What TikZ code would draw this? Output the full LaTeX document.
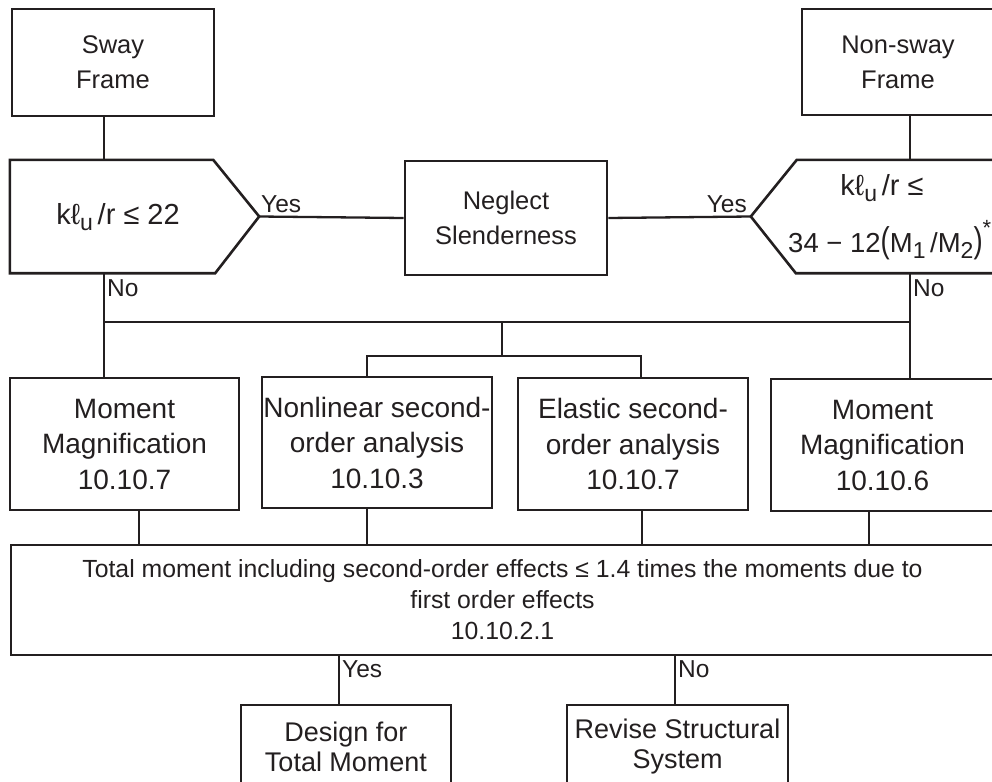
\documentclass[tikz,border=0pt]{standalone}
\usepackage{fontspec}
\setmainfont{Liberation Sans}
\usepackage{graphicx}
\definecolor{ink}{RGB}{35,31,32}
\newcommand\bigtxt{\fontsize{28}{35.5}\selectfont}
\newcommand\midtxt{\fontsize{25.5}{35}\selectfont}
\newcommand\labtxt{\fontsize{24.5}{28}\selectfont}
\newcommand\subtxt[1]{\raisebox{-0.42ex}{\fontsize{23}{23}\selectfont #1}}
\tikzset{
  box/.style={draw=ink, line width=2.6pt, rectangle, inner sep=0pt, align=center, text=ink},
  ghost/.style={rectangle, inner sep=0pt},
  link/.style={draw=ink, line width=2.3pt},
  lab/.style={inner sep=0pt, text=ink, font=\labtxt},
  txt/.style={inner sep=0pt, text=ink, align=center},
}
\begin{document}
\begin{tikzpicture}[x=1pt,y=-1pt]
\useasboundingbox (0,0) rectangle (992,781);
\clip (0,0) rectangle (992,781);

% top boxes
\node[box, minimum width=202pt, minimum height=107pt, font=\midtxt] (sway) at (113,62.5) {Sway\\Frame};
\node[box, minimum width=192pt, minimum height=106pt, font=\midtxt] (nonsway) at (898,62) {Non-sway\\Frame};

% slenderness checks (pointed boxes)
\node[ghost, minimum width=249pt, minimum height=113pt] (q1) at (134.5,216.5) {};
\draw[ink, line width=2.6pt, line join=miter]
  (q1.north west) -- ([xshift=-46pt]q1.north east) -- (q1.east)
  -- ([xshift=-44pt]q1.south east) -- (q1.south west) -- cycle;
\node[txt, font=\fontsize{29}{35}\selectfont] (q1t) at (118,217) {kℓ\subtxt{u}\,/r ≤ 22};

\node[ghost, minimum width=249pt, minimum height=113pt] (q2) at (875.5,216.5) {};
\draw[ink, line width=2.6pt, line join=miter]
  (q2.north east) -- ([xshift=46pt]q2.north west) -- (q2.west)
  -- ([xshift=45pt]q2.south west) -- (q2.south east) -- cycle;
\node[txt, font=\fontsize{29}{35}\selectfont] (q2a) at (882,188) {kℓ\subtxt{u}\,/r ≤};
\node[txt, font=\fontsize{27.5}{35}\selectfont, anchor=west] (q2b) at (788,240)
  {34 − 12\scalebox{1}[1.3]{(}M\subtxt{1}\,/M\subtxt{2}\scalebox{1}[1.3]{)}\raisebox{1.2ex}{\fontsize{22}{22}\selectfont *}};

\node[box, minimum width=202pt, minimum height=114pt, font=\midtxt] (neglect) at (506,218) {Neglect\\Slenderness};

% analysis methods
\node[box, minimum width=229pt, minimum height=132pt, font=\bigtxt] (mm1) at (124.5,444) {Moment\\Magnification\\10.10.7};
\node[box, minimum width=230pt, minimum height=131pt, font=\bigtxt] (nl) at (377,442.5) {Nonlinear second-\\order analysis\\10.10.3};
\node[box, minimum width=230pt, minimum height=132pt, font=\bigtxt] (el) at (633,444) {Elastic second-\\order analysis\\10.10.7};
\node[box, minimum width=223pt, minimum height=132pt, font=\bigtxt] (mm2) at (882.5,445) {Moment\\Magnification\\10.10.6};

% overall check
\node[box, minimum width=983pt, minimum height=110pt, font=\fontsize{24.8}{31}\selectfont] (total) at (502.5,600)
  {Total moment including second-order effects ≤ 1.4 times the moments due to\\first order effects\\10.10.2.1};

% outcomes
\node[box, minimum width=210pt, minimum height=83pt, font=\fontsize{27}{30}\selectfont] (design) at (346,746.5) {Design for\\Total Moment};
\node[box, minimum width=221pt, minimum height=83pt, font=\fontsize{27}{30}\selectfont] (revise) at (677.5,746.5) {Revise Structural\\System};

% connector columns and rows
\coordinate (cL) at (104,0);
\coordinate (cR) at (910,0);
\coordinate (cM) at (502,0);
\coordinate (c2) at (367,0);
\coordinate (c3) at (641,0);
\coordinate (busY) at (0,322);
\coordinate (sb) at (502,356);

\draw[link] (cL |- sway.south) -- (cL |- q1.north);
\draw[link] (cR |- nonsway.south) -- (cR |- q2.north);
\draw[link] (q1.east) -- (neglect.west);
\draw[link] (q2.west) -- (neglect.east);
\draw[link] (cL |- q1.south) -- (cL |- busY) -- (cR |- busY) -- (cR |- q2.south);
\draw[link] (cL |- busY) -- (cL |- mm1.north);
\draw[link] (cR |- busY) -- (cR |- mm2.north);
\draw[link] (cM |- busY) -- (sb);
\draw[link] (c2 |- nl.north) -- (c2 |- sb) -- (c3 |- sb) -- (c3 |- el.north);

\draw[link] ([xshift=139pt]mm1.south -| 0,0) -- ([xshift=139pt]total.north -| 0,0);
\draw[link] (c2 |- nl.south) -- (c2 |- total.north);
\draw[link] ([xshift=1pt]c3 |- el.south) -- ([xshift=1pt]c3 |- total.north);
\draw[link] ([xshift=869pt]mm2.south -| 0,0) -- ([xshift=869pt]total.north -| 0,0);

\draw[link] ([xshift=339pt]total.south -| 0,0) -- ([xshift=339pt]design.north -| 0,0);
\draw[link] ([xshift=675pt]total.south -| 0,0) -- ([xshift=675pt]revise.north -| 0,0);

% branch labels
\node[lab, anchor=south west] (y1) at (261,213) {Yes};
\node[lab, anchor=south east] (y2) at (747,213) {Yes};
\node[lab, anchor=west] (n1) at (107,288) {No};
\node[lab, anchor=west] (n2) at (913,288) {No};
\node[lab, anchor=west] (y3) at (342,669) {Yes};
\node[lab, anchor=west] (n3) at (678,669) {No};
\end{tikzpicture}
\end{document}
